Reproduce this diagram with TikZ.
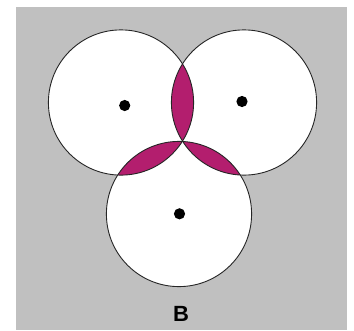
\documentclass[tikz,border=0pt]{standalone}
\usepackage{fontspec}
\setsansfont{Liberation Sans}
\usepackage{tikz}
\usetikzlibrary{calc}
\definecolor{bggray}{RGB}{192,192,192}
\definecolor{lensred}{RGB}{179,30,110}

\begin{document}
\begin{tikzpicture}[x=1pt,y=-1pt,every node/.style={font=\sffamily\bfseries}]
  \tikzset{disc/.style={draw=black!85,line width=0.9pt},
           lens/.style={fill=lensred},
           centre/.style={fill=black}}
  \useasboundingbox (0,0) rectangle (354,330);
  \fill[bggray] (16,7) rectangle (346.5,330);
  \coordinate (l) at (121,102.5);
  \coordinate (r) at (244,102.5);
  \coordinate (b) at (179,214);
  \def\rad{72.6}
  % white discs
  \foreach \c in {l,r,b} \fill[white] (\c) circle (\rad);
  % overlaps
  \begin{scope}\clip (l) circle (\rad); \fill[lens] (r) circle (\rad); \end{scope}
  \begin{scope}\clip (l) circle (\rad); \fill[lens] (b) circle (\rad); \end{scope}
  \begin{scope}\clip (r) circle (\rad); \fill[lens] (b) circle (\rad); \end{scope}
  \foreach \c in {l,r,b} \draw[disc] (\c) circle (\rad);
  % centre dots
  \fill[centre] (124.7,105.5) circle (5.6);
  \fill[centre] (242,101.5) circle (5.6);
  \fill[centre] (179.5,213.8) circle (5.6);
  \node[font=\sffamily\bfseries\fontsize{22}{24}\selectfont] (lbl) at (181,313.7) {B};
\end{tikzpicture}
\end{document}
